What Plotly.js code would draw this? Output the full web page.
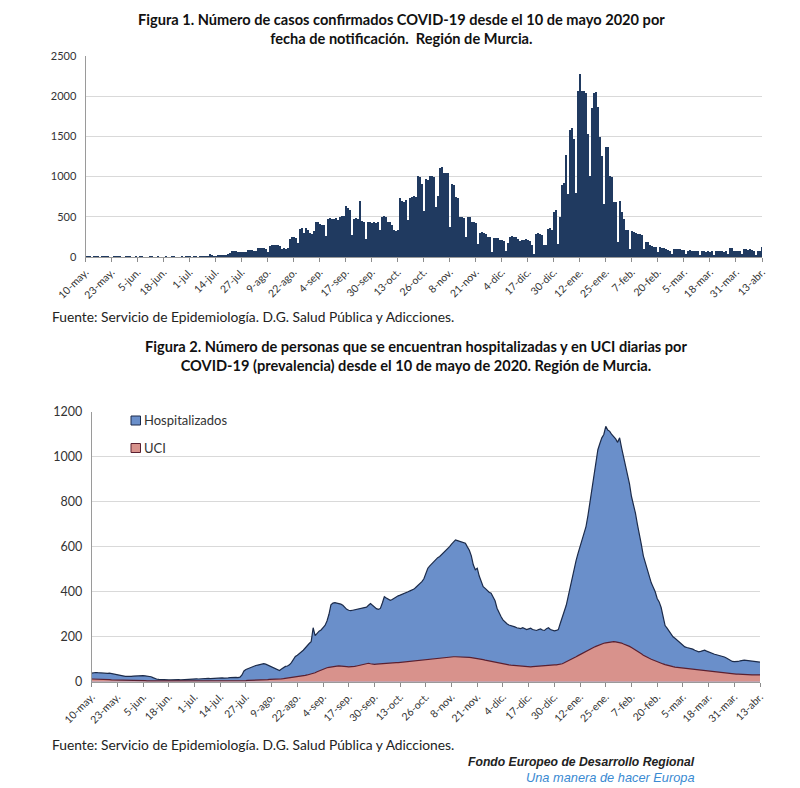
<!DOCTYPE html>
<html>
<head>
<meta charset="utf-8">
<script src="https://cdn.plot.ly/plotly-3.0.1.min.js"></script>
<style>
  html, body { margin: 0; padding: 0; background: #ffffff; }
  #chart { width: 800px; height: 788px; }
</style>
</head>
<body>
<div id="chart"></div>
<script>
// ---------- DATA ----------
const startDate = "2020-05-10";

const tickLabels = ["10-may.","23-may.","5-jun.","18-jun.","1-jul.","14-jul.","27-jul.","9-ago.","22-ago.",
  "4-sep.","17-sep.","30-sep.","13-oct.","26-oct.","8-nov.","21-nov.","4-dic.","17-dic.","30-dic.",
  "12-ene.","25-ene.","7-feb.","20-feb.","5-mar.","18-mar.","31-mar.","13-abr."];

const seriesNames = ["Hospitalizados", "UCI"];

// Figura 1: casos confirmados diarios (10-may-2020 ... 13-abr-2021)
const casos = [
  8,12,10,6,9,14,7,5,11,9,13,8,4,
  6,10,12,8,7,3,5,9,11,7,6,4,8,
  5,7,9,6,4,3,8,10,6,5,7,4,3,
  6,8,5,4,7,9,3,5,6,8,4,7,10,
  8,6,12,9,5,7,14,10,8,12,38,22,15,
  18,22,30,28,25,20,35,55,78,75,72,68,60,
  62,58,60,85,88,82,80,70,110,118,115,112,95,
  60,140,148,150,152,145,140,105,108,100,110,230,255,
  250,240,180,350,360,300,355,330,300,290,320,440,435,
  405,400,395,260,470,480,475,470,480,465,500,510,506,
  630,615,590,270,470,480,470,700,450,430,220,430,440,
  425,430,420,435,330,500,510,495,440,430,395,340,320,
  340,740,700,690,710,455,740,745,760,750,1010,1000,910,
  570,970,960,1010,1005,990,620,760,1110,1115,1050,1045,1040,
  370,910,900,745,740,495,500,480,250,500,495,435,430,
  425,165,300,310,295,285,250,245,60,240,235,240,215,
  210,200,70,180,255,260,250,255,230,205,215,210,220,
  215,200,150,40,290,295,280,270,155,150,350,360,340,
  560,580,165,495,900,920,1270,785,1580,1610,1470,790,2070,
  2280,2060,2070,2045,1530,1010,1850,2045,2050,1860,1490,1260,660,
  1370,1370,1010,1000,690,680,185,700,560,475,340,330,100,
  320,310,300,290,285,270,100,190,185,150,135,130,120,
  65,125,115,110,95,85,80,40,100,105,95,100,90,
  85,35,80,85,75,80,70,75,30,70,75,65,70,
  65,70,30,75,80,70,75,65,70,35,110,115,80,
  75,70,80,35,95,100,90,95,85,70,30,75,70,
  125
];

// Figura 2: hospitalizados (prevalencia diaria)
const hospitalizados = [
  38,40,41,40,39,38,40,39,37,38,36,35,33,
  30,28,27,25,24,24,23,24,25,26,26,27,26,
  27,26,25,24,22,18,14,11,10,9,9,8,8,
  8,8,9,8,8,9,8,9,10,10,11,11,12,
  12,13,12,13,14,13,14,15,14,15,14,15,16,
  16,17,16,18,17,18,19,18,19,18,20,30,48,
  54,58,62,66,70,72,74,76,78,80,78,74,70,
  66,62,58,52,50,56,64,68,70,75,85,100,112,
  118,125,130,140,150,162,170,178,240,205,215,225,230,
  240,250,270,300,342,350,352,350,348,345,340,330,322,
  318,316,318,320,322,325,327,328,330,332,340,348,340,
  330,325,322,326,350,378,372,365,362,366,372,378,382,
  385,388,392,396,400,404,408,412,420,428,436,445,458,
  480,505,515,525,535,545,552,557,565,575,585,592,601,
  612,622,631,628,625,622,620,616,600,585,560,520,498,
  505,470,445,423,415,405,398,394,380,360,327,305,290,
  275,265,258,252,250,246,244,240,238,236,240,235,232,
  235,238,232,230,228,232,235,230,228,236,240,232,228,
  226,228,232,260,285,310,340,380,423,460,500,540,572,
  600,630,660,690,740,800,854,920,980,1032,1060,1085,1100,
  1136,1120,1114,1100,1090,1080,1065,1085,1040,1000,958,920,880,
  824,790,750,700,660,610,560,527,495,470,440,420,400,
  370,355,330,285,250,238,225,212,200,193,185,180,172,
  162,155,152,150,148,145,140,135,133,135,138,140,136,
  132,128,125,122,120,118,116,114,110,105,100,95,90,
  89,88,90,93,96,96,95,94,92,91,90,89,88,
  87
];

// Figura 2: UCI (prevalencia diaria)
const uci = [
  12,12,11,11,10,10,10,9,9,9,8,8,8,
  8,7,7,7,7,6,6,6,6,6,5,5,5,
  5,5,4,4,4,4,3,3,3,3,3,3,3,
  3,3,2,2,2,2,2,2,2,2,2,2,2,
  2,2,2,2,2,3,3,3,3,3,3,3,3,
  3,3,3,3,4,4,4,4,4,4,5,5,5,
  5,6,6,6,7,7,7,8,8,8,9,9,10,
  10,11,11,12,12,13,14,15,16,17,18,19,20,
  21,22,24,26,28,30,32,34,37,40,44,48,52,
  56,59,62,64,66,67,68,69,70,70,69,68,67,
  66,66,67,68,70,72,74,76,78,80,82,80,78,
  77,78,79,80,81,82,82,83,83,84,84,85,85,
  86,86,87,88,88,89,90,91,92,94,95,97,98,
  100,101,102,103,104,104,105,106,107,108,108,109,110,
  110,111,111,111,111,111,110,110,109,108,107,106,105,
  104,102,100,98,96,94,92,90,89,88,86,84,82,
  80,78,76,75,74,73,72,71,70,69,68,67,67,
  66,66,67,68,68,69,70,71,72,73,74,74,74,
  75,75,76,78,80,84,88,92,96,100,105,111,116,
  121,126,131,136,140,145,149,153,157,161,165,168,171,
  173,175,176,177,178,177,176,174,172,168,165,161,157,
  152,147,142,136,130,124,118,112,108,104,100,96,92,
  88,85,82,79,76,73,71,69,67,65,64,62,61,
  60,59,57,56,55,54,53,52,51,50,49,48,47,
  46,45,44,44,43,42,42,41,40,39,38,37,36,
  35,34,34,33,33,32,32,31,31,30,30,30,30,
  30
];

// ---------- helpers ----------
function dayToDate(i) {
  const t = Date.parse(startDate + "T00:00:00Z") + i * 86400000;
  return new Date(t).toISOString().slice(0, 10);
}
const daysCasos = casos.map((_, i) => dayToDate(i));
const daysHosp = hospitalizados.map((_, i) => dayToDate(i));
const daysUci = uci.map((_, i) => dayToDate(i));
const tickVals = tickLabels.map((_, k) => dayToDate(13 * k));
const lastDay = dayToDate(13 * (tickLabels.length - 1));

const W = 800, H = 788;
const px = x => x / W;
const py = y => 1 - y / H;

const FONT = "Lato, 'Open Sans', 'Liberation Sans', sans-serif";
const NARROW = "'Liberation Sans Narrow', 'Liberation Sans', Arial, sans-serif";
const navy = "#203a60";
const blueFill = "#6a8fca";
const blueLine = "#1c2b4a";
const pinkFill = "#d8928c";
const pinkLine = "#5a2030";

const xCommon = {
  type: "date",
  range: [startDate, lastDay],
  tickmode: "array",
  tickvals: tickVals,
  ticktext: tickLabels,
  tickangle: -45,
  ticks: "outside",
  ticklen: 4,
  tickcolor: "#8c8c8c",
  showline: true,
  linecolor: "#9a9a9a",
  linewidth: 1,
  showgrid: false,
  zeroline: false,
  tickfont: { family: FONT, size: 10.5, color: "#333" },
  fixedrange: true
};

const traces = [
  {
    type: "bar",
    x: daysCasos,
    y: casos,
    xaxis: "x",
    yaxis: "y",
    marker: { color: navy, line: { width: 0 } },
    showlegend: false,
    hoverinfo: "skip"
  },
  {
    type: "scatter",
    mode: "lines",
    name: seriesNames[0],
    x: daysHosp,
    y: hospitalizados,
    xaxis: "x2",
    yaxis: "y2",
    fill: "tozeroy",
    fillcolor: blueFill,
    line: { color: blueLine, width: 1.2 },
    showlegend: false,
    hoverinfo: "skip"
  },
  {
    type: "scatter",
    mode: "lines",
    name: seriesNames[1],
    x: daysUci,
    y: uci,
    xaxis: "x2",
    yaxis: "y2",
    fill: "tozeroy",
    fillcolor: pinkFill,
    line: { color: pinkLine, width: 1.2 },
    showlegend: false,
    hoverinfo: "skip"
  }
];

// manual legend (swatches + labels) placed like the original inside the plot
const legendRows = [
  { y: 420.5, fill: blueFill, line: blueLine, label: seriesNames[0] },
  { y: 448, fill: pinkFill, line: pinkLine, label: seriesNames[1] }
];
const legendShapes = legendRows.map(r => ({
  type: "rect", xref: "paper", yref: "paper",
  x0: px(131), x1: px(140.5), y0: py(r.y + 4.5), y1: py(r.y - 4.5),
  fillcolor: r.fill, line: { color: r.line, width: 1 }
}));
const legendAnnotations = legendRows.map(r => ({
  xref: "paper", yref: "paper", x: px(142), y: py(r.y), xanchor: "left", yanchor: "middle",
  showarrow: false, text: r.label,
  font: { family: FONT, size: 13, color: "#333" }
}));

const layout = {
  width: W, height: H,
  margin: { l: 0, r: 0, t: 0, b: 0 },
  paper_bgcolor: "#ffffff",
  plot_bgcolor: "#ffffff",
  font: { family: FONT, color: "#222" },
  bargap: 0,
  showlegend: false,
  xaxis: Object.assign({}, xCommon, { domain: [px(85.5), px(762)], anchor: "y" }),
  yaxis: {
    domain: [py(257), py(56)], anchor: "x",
    range: [0, 2500], dtick: 500, tick0: 0,
    showgrid: true, gridcolor: "#d9d9d9", gridwidth: 1,
    showline: true, linecolor: "#9a9a9a", linewidth: 1,
    zeroline: false, ticks: "", ticklabelstandoff: 6,
    tickfont: { family: FONT, size: 11, color: "#333" },
    fixedrange: true
  },
  xaxis2: Object.assign({}, xCommon, { domain: [px(91.7), px(760)], anchor: "y2" }),
  yaxis2: {
    domain: [py(681.7), py(412)], anchor: "x2",
    range: [0, 1200], dtick: 200, tick0: 0,
    showgrid: true, gridcolor: "#d9d9d9", gridwidth: 1,
    showline: true, linecolor: "#9a9a9a", linewidth: 1,
    zeroline: false, ticks: "", ticklabelstandoff: 6,
    tickfont: { family: FONT, size: 12.5, color: "#333" },
    fixedrange: true
  },
  shapes: legendShapes,
  annotations: [
    {
      xref: "paper", yref: "paper", x: px(401), y: py(29), xanchor: "center", yanchor: "middle",
      showarrow: false, align: "center",
      text: "<b>Figura 1. Número de casos confirmados COVID-19 desde el 10 de mayo 2020 por<br>fecha de notificación.  Región de Murcia.</b>",
      font: { family: FONT, size: 14.6, color: "#111" }
    },
    {
      xref: "paper", yref: "paper", x: px(50), y: py(316), xanchor: "left", yanchor: "middle",
      showarrow: false,
      text: "Fuente: Servicio de Epidemiología. D.G. Salud Pública y Adicciones.",
      font: { family: FONT, size: 13.8, color: "#222" }
    },
    {
      xref: "paper", yref: "paper", x: px(416), y: py(355.5), xanchor: "center", yanchor: "middle",
      showarrow: false, align: "center",
      text: "<b>Figura 2. Número de personas que se encuentran hospitalizadas y en UCI diarias por<br>COVID-19 (prevalencia) desde el 10 de mayo de 2020. Región de Murcia.</b>",
      font: { family: FONT, size: 14.6, color: "#111" }
    },
    {
      xref: "paper", yref: "paper", x: px(50), y: py(744), xanchor: "left", yanchor: "middle",
      showarrow: false,
      text: "Fuente: Servicio de Epidemiología. D.G. Salud Pública y Adicciones.",
      font: { family: FONT, size: 13.8, color: "#222" }
    },
    {
      xref: "paper", yref: "paper", x: px(697), y: py(762), xanchor: "right", yanchor: "middle",
      showarrow: false,
      text: "<b><i>Fondo Europeo de Desarrollo Regional</i></b>",
      font: { family: NARROW, size: 12.2, color: "#222" }
    },
    {
      xref: "paper", yref: "paper", x: px(697), y: py(777), xanchor: "right", yanchor: "middle",
      showarrow: false,
      text: "<i>Una manera de hacer Europa</i>",
      font: { family: NARROW, size: 12.8, color: "#3a8ad2" }
    }
  ].concat(legendAnnotations)
};

Plotly.newPlot("chart", traces, layout, { displayModeBar: false, staticPlot: true });
</script>
</body>
</html>
